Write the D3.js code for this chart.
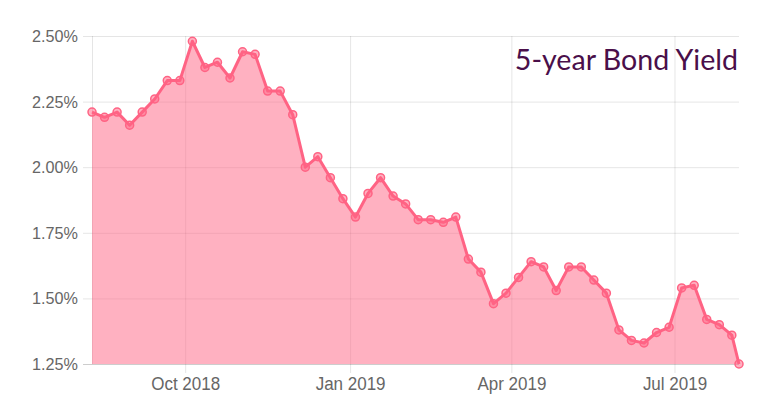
<!DOCTYPE html>
<html>
<head>
<meta charset="utf-8">
<script src="https://cdn.jsdelivr.net/npm/d3@7"></script>
<style>
  html, body { margin: 0; padding: 0; background: #fff; }
  svg { display: block; }
</style>
</head>
<body>
<svg id="chart" width="768" height="413"></svg>
<script>
const dates = [
  "2018-08-10","2018-08-17","2018-08-24","2018-08-31","2018-09-07","2018-09-14","2018-09-21","2018-09-28",
  "2018-10-05","2018-10-12","2018-10-19","2018-10-26","2018-11-02","2018-11-09","2018-11-16","2018-11-23",
  "2018-11-30","2018-12-07","2018-12-14","2018-12-21","2018-12-28","2019-01-04","2019-01-11","2019-01-18",
  "2019-01-25","2019-02-01","2019-02-08","2019-02-15","2019-02-22","2019-03-01","2019-03-08","2019-03-15",
  "2019-03-22","2019-03-29","2019-04-05","2019-04-12","2019-04-19","2019-04-26","2019-05-03","2019-05-10",
  "2019-05-17","2019-05-24","2019-05-31","2019-06-07","2019-06-14","2019-06-21","2019-06-28","2019-07-05",
  "2019-07-12","2019-07-19","2019-07-26","2019-08-02","2019-08-06"
];
const yields = [
  2.21, 2.19, 2.21, 2.16, 2.21, 2.26, 2.33, 2.33,
  2.48, 2.38, 2.40, 2.34, 2.44, 2.43, 2.29, 2.29,
  2.20, 2.00, 2.04, 1.96, 1.88, 1.81, 1.90, 1.96,
  1.89, 1.86, 1.80, 1.80, 1.79, 1.81, 1.65, 1.60,
  1.48, 1.52, 1.58, 1.64, 1.62, 1.53, 1.62, 1.62,
  1.57, 1.52, 1.38, 1.34, 1.33, 1.37, 1.39, 1.54,
  1.55, 1.42, 1.40, 1.36, 1.25
];
const xTickDates = ["2018-10-01", "2019-01-01", "2019-04-01", "2019-07-01"];
const yTicks = [1.25, 1.50, 1.75, 2.00, 2.25, 2.50];
const title = "5-year Bond Yield";

const parse = d3.timeParse("%Y-%m-%d");
const data = dates.map((d, i) => ({ date: parse(d), value: yields[i] }));

const svg = d3.select("#chart");
const mLeft = 92, mRight = 739, mTop = 36, mBottom = 364;

const x = d3.scaleTime()
  .domain(d3.extent(data, d => d.date))
  .range([mLeft, mRight]);
const y = d3.scaleLinear()
  .domain([1.25, 2.5])
  .range([mBottom, mTop]);

const gridColor = "rgba(0,0,0,0.1)";
const fontFam = "'Liberation Sans', Arial, Helvetica, sans-serif";

// Y axis (gridlines + labels)
const yAxis = d3.axisLeft(y)
  .tickValues(yTicks)
  .tickSize(-(mRight - mLeft))
  .tickPadding(14)
  .tickFormat(d => d.toFixed(2) + "%");
const gy = svg.append("g")
  .attr("transform", `translate(${mLeft},0)`)
  .call(yAxis);
gy.select(".domain").remove();
gy.selectAll(".tick line")
  .attr("x1", -9)
  .attr("stroke", gridColor)
  .attr("stroke-width", 1);
gy.selectAll(".tick text")
  .attr("fill", "#666")
  .attr("dy", "0")
  .attr("y", 0)
  .attr("transform", "translate(0,5.5) scale(1,1.05)")
  .style("font-family", fontFam)
  .style("font-size", "16.2px");

// X axis (gridlines + labels)
const xTicks = xTickDates.map(parse);
const xAxis = d3.axisBottom(x)
  .tickValues(xTicks)
  .tickSize(-(mBottom - mTop))
  .tickFormat(d3.timeFormat("%b %Y"));
const gx = svg.append("g")
  .attr("transform", `translate(0,${mBottom})`)
  .call(xAxis);
gx.select(".domain").remove();
gx.selectAll(".tick line")
  .attr("y2", 9)
  .attr("y1", -(mBottom - mTop))
  .attr("stroke", gridColor)
  .attr("stroke-width", 1);
gx.selectAll(".tick text")
  .attr("fill", "#666")
  .attr("dy", "0")
  .attr("y", 0)
  .attr("transform", "translate(0,26) scale(1,1.06)")
  .style("font-family", fontFam)
  .style("font-size", "17px");

// axis border lines
svg.append("line")
  .attr("x1", mLeft + 0.5).attr("x2", mLeft + 0.5)
  .attr("y1", mTop).attr("y2", mBottom)
  .attr("stroke", gridColor);
svg.append("line")
  .attr("x1", mLeft - 9).attr("x2", mRight)
  .attr("y1", mBottom + 0.5).attr("y2", mBottom + 0.5)
  .attr("stroke", gridColor);

// Area fill
const area = d3.area()
  .x(d => x(d.date))
  .y0(y(1.25))
  .y1(d => y(d.value));
svg.append("path")
  .datum(data)
  .attr("d", area)
  .attr("fill", "rgba(255,99,132,0.5)");

// Line
const line = d3.line()
  .x(d => x(d.date))
  .y(d => y(d.value));
svg.append("path")
  .datum(data)
  .attr("d", line)
  .attr("fill", "none")
  .attr("stroke", "#ff6384")
  .attr("stroke-width", 3)
  .attr("stroke-linejoin", "round");

// Points
svg.append("g")
  .selectAll("circle")
  .data(data)
  .join("circle")
  .attr("cx", d => x(d.date))
  .attr("cy", d => y(d.value))
  .attr("r", 4)
  .attr("fill", "rgba(255,99,132,0.5)")
  .attr("stroke", "#ff6384")
  .attr("stroke-width", 1.5);

// Title
svg.append("text")
  .attr("x", 738)
  .attr("y", 70)
  .attr("text-anchor", "end")
  .attr("fill", "#4a0f4a")
  .style("font-family", "Lato, 'Open Sans', sans-serif")
  .style("font-size", "28.6px")
  .text(title);
</script>
</body>
</html>
